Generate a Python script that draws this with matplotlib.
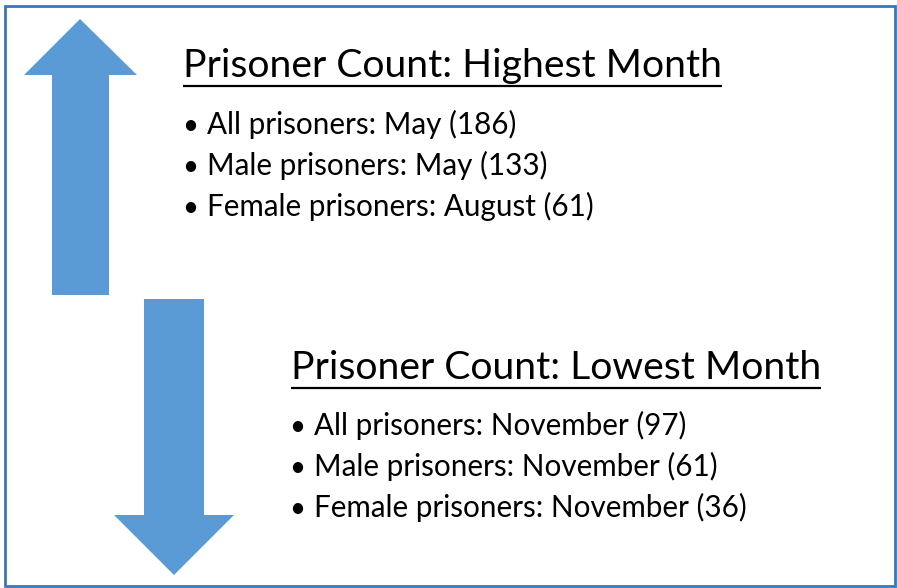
import matplotlib.pyplot as plt
from matplotlib.patches import Polygon, Rectangle

# Text content
titles = ["Prisoner Count: Highest Month", "Prisoner Count: Lowest Month"]
high_items = ["All prisoners: May (186)",
              "Male prisoners: May (133)",
              "Female prisoners: August (61)"]
low_items = ["All prisoners: November (97)",
             "Male prisoners: November (61)",
             "Female prisoners: November (36)"]

arrow_color = "#5B9BD5"
border_color = "#3A76B8"
font = ["Lato", "DejaVu Sans"]

W, H = 897, 588
fig = plt.figure(figsize=(W / 100, H / 100), dpi=100)
ax = fig.add_axes([0, 0, 1, 1])
ax.set_xlim(0, W)
ax.set_ylim(H, 0)
ax.axis("off")

# frame
ax.add_patch(Rectangle((5, 6), 890, 580, fill=False, edgecolor=border_color, linewidth=2))

# up arrow
up = [(52, 295), (52, 75), (24, 75), (80, 19), (137, 75), (109, 75), (109, 295)]
ax.add_patch(Polygon(up, closed=True, facecolor=arrow_color, edgecolor="none"))

# down arrow
down = [(144, 299), (204, 299), (204, 515), (234, 515), (174, 575), (114, 515), (144, 515)]
ax.add_patch(Polygon(down, closed=True, facecolor=arrow_color, edgecolor="none"))


def block(x_title, y_title, x_item, y_item, title, items):
    t = ax.text(x_title, y_title, title, fontsize=28.2, family=font, va="baseline", ha="left")
    fig.canvas.draw()
    bb = t.get_window_extent().transformed(ax.transData.inverted())
    ax.plot([bb.x0, bb.x1], [y_title + 9, y_title + 9], color="black", linewidth=1.6,
            solid_capstyle="butt")
    for i, s in enumerate(items):
        y = y_item + i * 41
        ax.text(x_item - 5, y, "\u2022", fontsize=20, family=font, va="baseline", ha="left")
        ax.text(x_item + 20, y, s, fontsize=21.3, family=font, va="baseline", ha="left")


block(183, 77, 187, 134, titles[0], high_items)
block(291, 379, 294, 435, titles[1], low_items)

fig.savefig("out.png", dpi=100)
